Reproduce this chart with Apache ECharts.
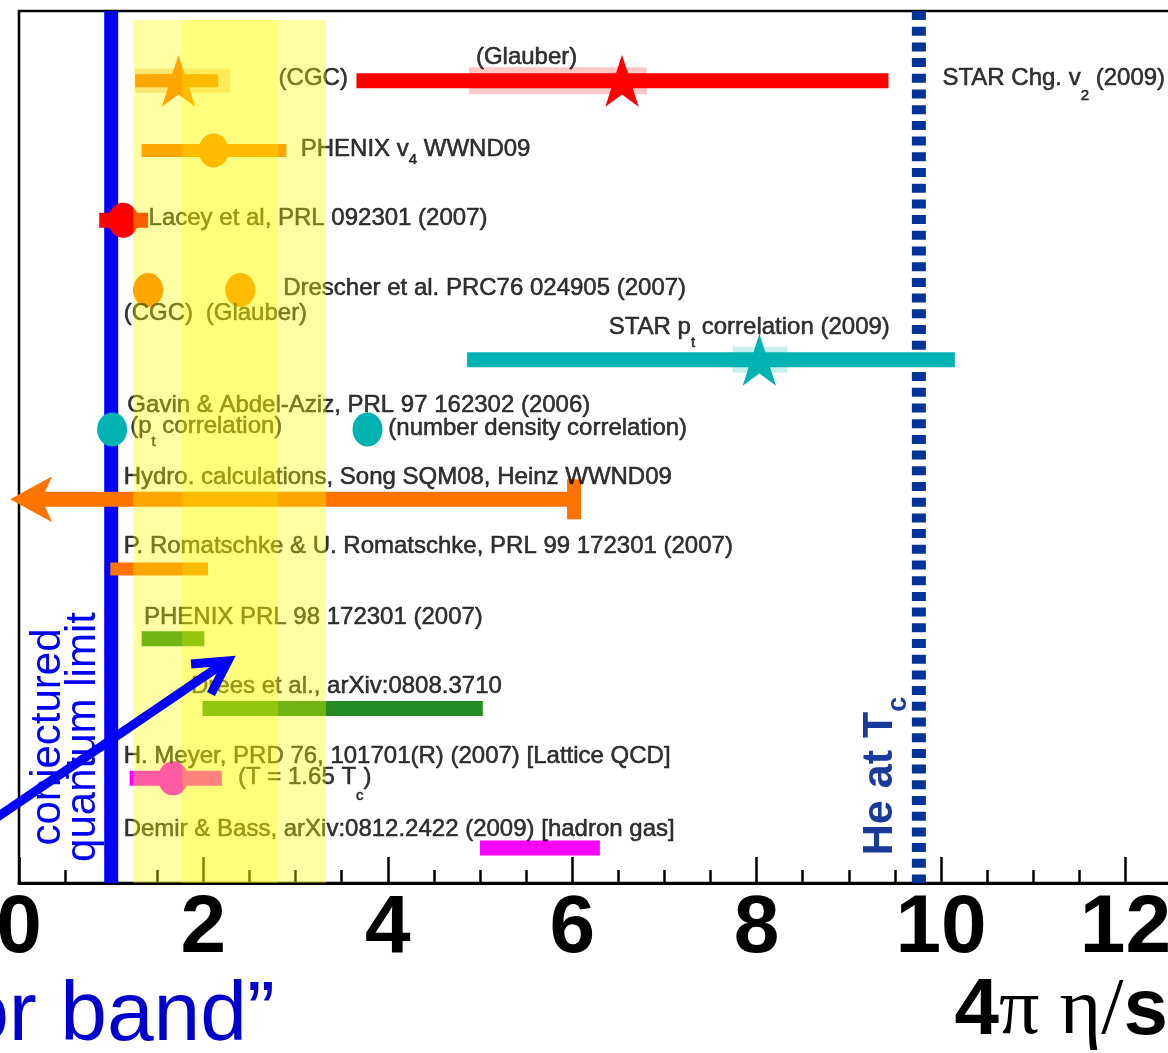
<!DOCTYPE html>
<html><head><meta charset="utf-8">
<script src="https://cdn.jsdelivr.net/npm/echarts@6/dist/echarts.min.js"></script>
<style>html,body{margin:0;padding:0;background:#fff}#c{width:1168px;height:1053px}</style>
</head><body><div id="c"></div>
<script>
// ---- data (x in units of 4π η/s, y = row index, 1 = top row) ----
const xTickLabels = [0, 2, 4, 6, 8, 10, 12];
const quantumLimit = [[1.0, 0, 12.5]];
const heliumTc = [[9.76, 0, 12.5]];
const errorBand = [[1.24, 3.33, 0.13, 12.5]];
const errorBandCore = [[1.77, 2.81, 0.13, 12.5]];

const redRanges = [[3.66, 9.43, 1], [0.87, 1.40, 3]];
const orangeRanges = [[1.26, 2.16, 1], [1.33, 2.90, 2], [0.99, 2.05, 8]];
const tealRanges = [[4.86, 10.15, 5]];
const greenRanges = [[1.33, 2.01, 9], [1.99, 5.03, 10]];
const magentaRanges = [[1.20, 2.20, 11], [5.00, 6.30, 12]];
const hydroRange = [[6.02, 7], [0.08, 7]];
const hydroArrowTip = [[-0.096, 7]];

const redSys = [[4.88, 6.81, 1]];
const orangeSys = [[1.26, 2.29, 1]];
const tealSys = [[7.74, 8.33, 5]];

const redStars = [[6.54, 1]];
const orangeStars = [[1.73, 1]];
const tealStars = [[8.03, 5]];

const redPoints = [[1.13, 3]];
const orangePoints = [[2.11, 2], [1.40, 4], [2.40, 4]];
const tealPoints = [[1.01, 6], [3.78, 6]];
const magentaPoints = [[1.67, 11]];

const labelTexts = [
  [2.81, 0.96, '(CGC)'],
  [4.95, 0.67, '(Glauber)'],
  [10.01, 0.96, '{n|STAR Chg. v}{sc|2}{n| (2009)}'],
  [3.05, 1.99, '{n|PHENIX v}{sa|4}{n| WWND09}'],
  [1.40, 2.97, 'Lacey et al, PRL 092301 (2007)'],
  [2.86, 3.97, 'Drescher et al. PRC76 024905 (2007)'],
  [1.13, 4.34, '(CGC)'],
  [2.02, 4.34, '(Glauber)'],
  [6.39, 4.54, '{n|STAR p}{sb|t}{n| correlation (2009)}'],
  [1.17, 5.65, 'Gavin & Abdel-Aziz, PRL 97 162302 (2006)'],
  [1.20, 5.96, '{n|(p}{sb|t}{n| correlation)}'],
  [4.00, 5.98, '(number density correlation)'],
  [1.13, 6.68, 'Hydro. calculations, Song SQM08, Heinz WWND09'],
  [1.13, 7.68, 'P. Romatschke & U. Romatschke, PRL 99 172301 (2007)'],
  [1.35, 8.69, 'PHENIX PRL 98 172301 (2007)'],
  [1.86, 9.68, 'Drees et al., arXiv:0808.3710'],
  [1.13, 10.69, 'H. Meyer, PRD 76, 101701(R) (2007) [Lattice QCD]'],
  [2.37, 10.99, '{n|(T = 1.65 T}{sc|c}{n|)}'],
  [1.13, 11.73, 'Demir & Bass, arXiv:0812.2422 (2009) [hadron gas]']
];

// ---- styles ----
const FONT = '"Liberation Sans", Arial, Helvetica, sans-serif';
const SERIF = '"Liberation Serif", "Times New Roman", serif';
const STAR = 'path://M50,0 L61.23,34.55 L97.55,34.55 L68.16,55.9 L79.39,90.45 L50,69.1 L20.61,90.45 L31.84,55.9 L2.45,34.55 L38.77,34.55 Z';
const ELLIPSE = 'path://M0,50 A50,50 0 1,1 100,50 A50,50 0 1,1 0,50 Z';
const C = {red:'#ff0000', orange:'#ff7400', teal:'#00b3b3', green:'#228b22', magenta:'#ff00ff',
  redSys:'#ffc8c8', orangeSys:'#ffd6b0', tealSys:'#c8eeee'};
const TXT = '#000';
const TB = 0.55;

function rangeSeries(data, color, thick, z) {
  return {type:'custom', data, z, clip:false, silent:true, encode:{x:[0,1], y:2}, itemStyle:{color},
    renderItem:(params, api) => {
      const a = api.coord([api.value(0), api.value(2)]);
      const b = api.coord([api.value(1), api.value(2)]);
      return {type:'rect', shape:{x:a[0], y:a[1]-thick/2, width:b[0]-a[0], height:thick}, style:{fill:color}};
    }};
}
function bandSeries(data, color, z) {
  return {type:'custom', data, z, clip:false, silent:true, encode:{x:[0,1], y:[2,3]},
    renderItem:(params, api) => {
      const a = api.coord([api.value(0), api.value(2)]);
      const b = api.coord([api.value(1), api.value(3)]);
      return {type:'rect', shape:{x:a[0], y:a[1], width:b[0]-a[0], height:b[1]-a[1]}, style:{fill:color}};
    }};
}
function vlineSeries(data, color, width, dash, z) {
  return {type:'custom', data, z, clip:false, silent:true, encode:{x:0, y:[1,2]},
    renderItem:(params, api) => {
      const a = api.coord([api.value(0), api.value(1)]);
      const b = api.coord([api.value(0), api.value(2)]);
      return {type:'line', shape:{x1:a[0], y1:a[1], x2:b[0], y2:b[1]},
        style:{stroke:color, lineWidth:width, lineDash:dash}};
    }};
}
function markSeries(data, symbol, size, color, z, rotate) {
  return {type:'scatter', data, symbol, symbolSize:size, symbolRotate:rotate || 0, z, silent:true, clip:false,
    itemStyle:{color, opacity:1}};
}
function subStyle(size, shift) {
  return {fontSize:size, fontFamily:FONT, color:TXT, textBorderColor:TXT, textBorderWidth:TB,
    verticalAlign:'middle', padding:[shift*2,0,0,0]};
}

const chart = echarts.init(document.getElementById('c'), null, {renderer:'canvas'});
chart.setOption({
  animation:false,
  backgroundColor:'#ffffff',
  grid:{left:19, top:11, width:1152.5, height:872, show:true, borderColor:'#000', borderWidth:2.5,
    backgroundColor:'transparent', containLabel:false, outerBoundsMode:'none'},
  xAxis:{type:'value', position:'bottom', min:0, max:12.5, interval:2,
    axisLine:{show:true, onZero:false, lineStyle:{color:'#000', width:3}},
    axisTick:{show:true, inside:true, length:26, lineStyle:{color:'#000', width:2.5}},
    minorTick:{show:true, splitNumber:4, length:13, lineStyle:{color:'#000', width:2.5}},
    splitLine:{show:false}, minorSplitLine:{show:false},
    axisLabel:{show:true, margin:5, fontSize:82, fontWeight:'bold', fontFamily:FONT, color:'#000',
      formatter:v => (xTickLabels.indexOf(v) >= 0 ? String(v) : '')}},
  yAxis:{type:'value', min:0, max:12.5, inverse:true, show:false,
    axisLine:{show:false, onZero:false}, axisTick:{show:false}, splitLine:{show:false}, axisLabel:{show:false}},
  series:[
    vlineSeries(quantumLimit, '#0000ff', 14, null, 1),
    vlineSeries(heliumTc, '#003399', 14, [9, 6.7], 1),
    rangeSeries(redSys, C.redSys, 27, 2),
    rangeSeries(orangeSys, C.orangeSys, 24, 2),
    rangeSeries(tealSys, C.tealSys, 26, 2),
    rangeSeries(redRanges, C.red, 15, 3),
    rangeSeries(orangeRanges, C.orange, 13, 3),
    rangeSeries(tealRanges, C.teal, 15, 3),
    rangeSeries(greenRanges, C.green, 15, 3),
    rangeSeries(magentaRanges, C.magenta, 15, 3),
    {type:'line', z:3, silent:true, clip:false, showSymbol:true,
      lineStyle:{color:C.orange, width:15}, itemStyle:{color:C.orange, opacity:1},
      data:[{value:hydroRange[0], symbol:'rect', symbolSize:[14,40]},
            {value:hydroRange[1], symbol:'none'}]},
    markSeries(hydroArrowTip, 'arrow', [34.5, 42], C.orange, 3, 90),
    markSeries(redStars, STAR, [54,52], C.red, 4),
    markSeries(orangeStars, STAR, [54,52], C.orange, 4),
    markSeries(tealStars, STAR, [54,52], C.teal, 4),
    markSeries(redPoints, ELLIPSE, [30,35], C.red, 4),
    markSeries(orangePoints, ELLIPSE, [30,34], C.orange, 4),
    markSeries(tealPoints, ELLIPSE, [30,34], C.teal, 4),
    markSeries(magentaPoints, ELLIPSE, [30,34], C.magenta, 4),
    {type:'scatter', z:5, silent:true, clip:false, symbolSize:1, itemStyle:{color:'rgba(0,0,0,0)'},
      data:labelTexts.map(l => ({value:[l[0], l[1]], name:l[2]})),
      label:{show:true, position:'right', distance:0, formatter:p => p.name,
        fontSize:24, fontFamily:FONT, color:TXT, textBorderColor:TXT, textBorderWidth:TB,
        rich:{n:{fontSize:24, fontFamily:FONT, color:TXT, textBorderColor:TXT, textBorderWidth:TB, verticalAlign:'middle'},
          sa:subStyle(15, 10), sb:subStyle(15, 15), sc:subStyle(15, 18)}}},
    bandSeries(errorBand, 'rgba(255,255,0,0.36)', 10),
    bandSeries(errorBandCore, 'rgba(255,255,0,0.24)', 10)
  ],
  graphic:[
    {type:'text', x:66, y:737, rotation:Math.PI/2, z:100, silent:true,
      style:{text:'conjectured\nquantum limit', fill:'#0000ff', fontSize:42, fontFamily:FONT,
        align:'center', verticalAlign:'middle', lineHeight:35}},
    {type:'text', x:880, y:776, rotation:Math.PI/2, z:100, silent:true,
      style:{text:'{m|He at T}{c|c}', align:'center', verticalAlign:'middle',
        rich:{m:{fontSize:43, fontWeight:'bold', fontFamily:FONT, fill:'#1a3a9a', verticalAlign:'middle'},
          c:{fontSize:27, fontWeight:'bold', fontFamily:FONT, fill:'#1a3a9a', verticalAlign:'middle', padding:[37,0,0,0]}}}},
    {type:'polyline', z:100, silent:true, shape:{points:[[-4,818],[224,663]]},
      style:{stroke:'#0000ff', lineWidth:9}},
    {type:'polyline', z:100, silent:true, shape:{points:[[191,664],[228,661],[211,694]]},
      style:{stroke:'#0000ff', lineWidth:9, lineJoin:'miter'}},
    {type:'text', x:275, y:1017, z:100, silent:true,
      style:{text:'\u201Cerror band\u201D', fill:'#0000cc', fontSize:84, fontFamily:FONT,
        align:'right', verticalAlign:'middle'}},
    {type:'text', x:1168, y:1012, z:100, silent:true,
      style:{text:'{a|4}{g|\u03C0 \u03B7/}{a|s}', align:'right', verticalAlign:'middle',
        rich:{a:{fontSize:80, fontWeight:'bold', fontFamily:FONT, fill:'#000', verticalAlign:'middle'},
          g:{fontSize:80, fontFamily:SERIF, fill:'#000', verticalAlign:'middle'}}}}
  ]
});
</script></body></html>
